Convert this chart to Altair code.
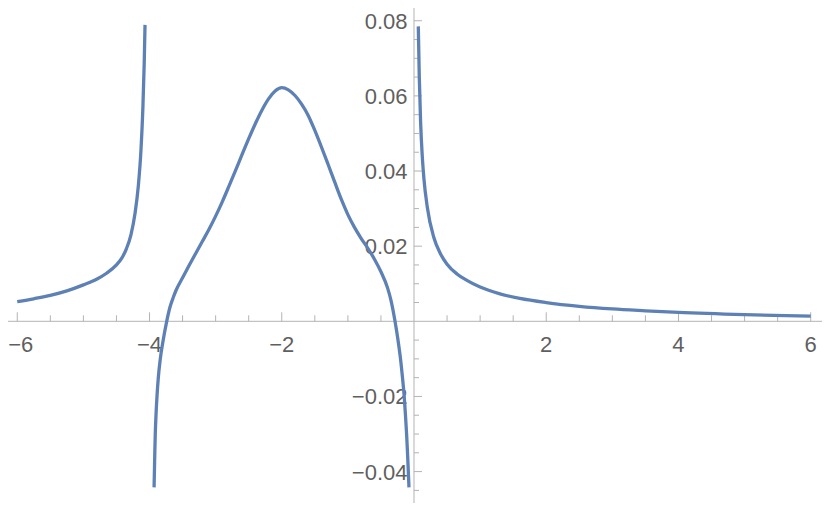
import altair as alt
import pandas as pd

# ---- curve data (three branches between the poles) ----
left_x = [-6.0, -5.75, -5.5, -5.25, -5.0, -4.8, -4.65, -4.5, -4.42, -4.35, -4.28, -4.22,
          -4.17, -4.13, -4.1, -4.08, -4.068]
left_y = [0.0052, 0.0060, 0.0069, 0.0081, 0.0097, 0.0112, 0.0128, 0.0150, 0.0168, 0.0193, 0.0231, 0.0286,
          0.0359, 0.0454, 0.0570, 0.0688, 0.0789]

mid_x = [-3.931, -3.926, -3.920, -3.913, -3.902, -3.887, -3.867, -3.837, -3.793, -3.74, -3.69, -3.64,
         -3.6, -3.5, -3.4, -3.3, -3.2, -3.1, -3.0, -2.9, -2.8, -2.7, -2.6, -2.5, -2.4, -2.3, -2.2, -2.1,
         -2.0, -1.9, -1.8, -1.7, -1.6, -1.5, -1.4, -1.3, -1.2, -1.1, -1.0, -0.9, -0.8, -0.7, -0.6, -0.5,
         -0.4, -0.35, -0.287, -0.242, -0.204, -0.174, -0.148, -0.129, -0.112, -0.098, -0.086, -0.076]
mid_y = [-0.0442, -0.0400, -0.0350, -0.0300, -0.0250, -0.0200, -0.0150, -0.0100, -0.0050, 0.0, 0.0038, 0.0064,
         0.0082, 0.0116, 0.0149, 0.0181, 0.0213, 0.0245, 0.0280, 0.0318, 0.0359, 0.0401, 0.0444, 0.0486,
         0.0526, 0.0562, 0.0592, 0.0613,
         0.0622, 0.0616, 0.0601, 0.0578, 0.0548, 0.0508, 0.0464, 0.0418, 0.0371, 0.0325, 0.0284, 0.0250,
         0.0221, 0.0195, 0.0166, 0.0132,
         0.0089, 0.0057, 0.0, -0.0050, -0.0100, -0.0150, -0.0200, -0.0250, -0.0300, -0.0350, -0.0400, -0.0442]

right_x = [0.065, 0.08, 0.1, 0.125, 0.15, 0.2, 0.3, 0.4, 0.5, 0.65, 0.8, 1.0, 1.3, 1.6, 2.0, 2.5,
           3.0, 3.5, 4.0, 5.0, 6.0]
right_y = [0.0785, 0.0650, 0.0530, 0.0440, 0.0380, 0.0305, 0.0223, 0.0180, 0.0152, 0.0126, 0.0109, 0.0091,
           0.0073, 0.0061, 0.0050, 0.0040, 0.0033, 0.0028, 0.00235, 0.00176, 0.0014]

# ---- axes ----
x_major = [-6, -4, -2, 2, 4, 6]
x_major_labels = ["\u22126", "\u22124", "\u22122", "2", "4", "6"]
x_minor = [-5.5, -5, -4.5, -3.5, -3, -2.5, -1.5, -1, -0.5, 0.5, 1, 1.5, 2.5, 3, 3.5, 4.5, 5, 5.5]

y_major = [-0.04, -0.02, 0.02, 0.04, 0.06, 0.08]
y_major_labels = ["\u22120.04", "\u22120.02", "0.02", "0.04", "0.06", "0.08"]
y_minor = [-0.045, -0.035, -0.03, -0.025, -0.015, -0.01, -0.005, 0.005, 0.01, 0.015,
           0.025, 0.03, 0.035, 0.045, 0.05, 0.055, 0.065, 0.07, 0.075, 0.085]

x_domain = [-6.1403, 6.1706]
y_domain = [-0.04836, 0.08339]

W, H = 814, 495
CURVE = "#5E81B5"
AXIS = "#b3b3b3"
LABEL = "#5f5f5f"
FONT = "Liberation Sans"

rows = []
for seg, xs_, ys_ in (("a", left_x, left_y), ("b", mid_x, mid_y), ("c", right_x, right_y)):
    for xv, yv in zip(xs_, ys_):
        rows.append({"x": xv, "y": yv, "seg": seg})
curve_df = pd.DataFrame(rows)

xs = alt.Scale(domain=x_domain, nice=False, zero=False)
ys = alt.Scale(domain=y_domain, nice=False, zero=False)

def X(field):
    return alt.X(field, type="quantitative", scale=xs, axis=None)

def Y(field):
    return alt.Y(field, type="quantitative", scale=ys, axis=None)

# axis lines
xaxis_line = alt.Chart(pd.DataFrame({"a": [x_domain[0]], "b": [x_domain[1]], "z": [0.0]})).mark_rule(
    color=AXIS, strokeWidth=1).encode(x=X("a"), x2="b", y=Y("z"))
yaxis_line = alt.Chart(pd.DataFrame({"a": [y_domain[0]], "b": [y_domain[1]], "z": [0.0]})).mark_rule(
    color=AXIS, strokeWidth=1).encode(y=Y("a"), y2="b", x=X("z"))

# x ticks (pointing up)
xmaj_df = pd.DataFrame({"t": x_major, "lab": x_major_labels, "z": 0.0})
xmin_df = pd.DataFrame({"t": x_minor, "z": 0.0})
xmaj_ticks = alt.Chart(xmaj_df).mark_rule(color=AXIS, strokeWidth=1, y2Offset=-9).encode(
    x=X("t"), y=Y("z"), y2="z")
xmin_ticks = alt.Chart(xmin_df).mark_rule(color=AXIS, strokeWidth=1, y2Offset=-6).encode(
    x=X("t"), y=Y("z"), y2="z")
xlabels = alt.Chart(xmaj_df.iloc[1:]).mark_text(
    font=FONT, fontSize=22, color=LABEL, align="center", baseline="alphabetic", dy=31).encode(
    x=X("t"), y=Y("z"), text="lab")
# the leftmost label is nudged right so that it is not cut by the page edge
xlabel_first = alt.Chart(xmaj_df.iloc[:1]).mark_text(
    font=FONT, fontSize=22, color=LABEL, align="left", baseline="alphabetic", dy=31, dx=-9).encode(
    x=X("t"), y=Y("z"), text="lab")

# y ticks (pointing right)
ymaj_df = pd.DataFrame({"t": y_major, "lab": y_major_labels, "z": 0.0})
ymin_df = pd.DataFrame({"t": y_minor, "z": 0.0})
ymaj_ticks = alt.Chart(ymaj_df).mark_rule(color=AXIS, strokeWidth=1, x2Offset=8).encode(
    y=Y("t"), x=X("z"), x2="z")
ymin_ticks = alt.Chart(ymin_df).mark_rule(color=AXIS, strokeWidth=1, x2Offset=5).encode(
    y=Y("t"), x=X("z"), x2="z")
ylabels = alt.Chart(ymaj_df).mark_text(
    font=FONT, fontSize=22, color=LABEL, align="right", baseline="middle", dx=-6.5, dy=1).encode(
    y=Y("t"), x=X("z"), text="lab")

curve = alt.Chart(curve_df).mark_line(
    color=CURVE, strokeWidth=3.3, interpolate="monotone", clip=True).encode(
    x=X("x"), y=Y("y"), detail="seg:N", order="x:Q")

chart = alt.layer(
    xaxis_line, yaxis_line, xmin_ticks, xmaj_ticks, ymin_ticks, ymaj_ticks,
    xlabels, xlabel_first, ylabels, curve
).properties(
    width=W, height=H, padding=0, autosize=alt.AutoSizeParams(type="none")
).configure_view(stroke=None)

chart.save("out.html", embed_options={"renderer": "svg", "actions": False})
